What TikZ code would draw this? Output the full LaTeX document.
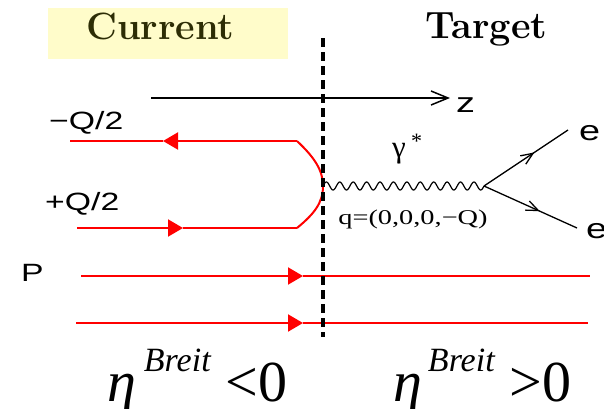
\documentclass[tikz,border=0pt]{standalone}
\usepackage{graphicx}
\usepackage{fontspec}
\usepackage{tikz}
\usetikzlibrary{arrows.meta,decorations.markings}
\newfontfamily\lsans{Liberation Sans}
\newfontfamily\lserif{Liberation Serif}
\newcommand{\hwide}[1]{\scalebox{1.35}[1]{#1}}
\definecolor{boxyellow}{RGB}{255,252,202}
\definecolor{darkolive}{RGB}{45,45,5}

\begin{document}
\begin{tikzpicture}[x=1pt, y=-1pt,
  fline/.style={red, line width=2pt},
  ftip/.style={-{Triangle[length=15pt,width=17pt]}},
  eline/.style={line width=1.3pt, postaction={decorate},
    decoration={markings, mark=at position 0.6 with {\arrow{Straight Barb[length=12pt,width=10pt]}}}},
  lab/.style={anchor=base west, inner sep=0pt, font=\lsans\fontsize{25}{28}\selectfont},
  big/.style={anchor=base west, inner sep=0pt, font=\lsans\fontsize{28}{30}\selectfont},
  title/.style={anchor=base west, inner sep=0pt, font=\fontsize{38}{42}\selectfont\bfseries},
  eta/.style={anchor=base west, inner sep=0pt, font=\lserif\fontsize{58}{60}\selectfont}]
  \useasboundingbox (0,0) rectangle (604,408);

  % Regions
  \fill[boxyellow] (48,8) rectangle (288,59);
  \node[title, text=darkolive] (curr) at (86,39) {Current};
  \node[title] (targ) at (425,38) {Target};

  % z axis
  \coordinate (zstart) at (151,98);
  \coordinate (zend) at (450,98);
  \draw[line width=1.5pt, -{Straight Barb[length=17pt,width=14pt]}] (zstart) -- (zend);
  \node[big] (zlab) at (456,112) {\hwide{z}};

  % Quark line (-Q/2 in, +Q/2 out)
  \coordinate (qtl) at (70,141);
  \coordinate (qtm) at (163,141);
  \coordinate (qtop) at (297,141);
  \coordinate (vtx) at (323,186);
  \coordinate (qbot) at (297,228);
  \coordinate (qbm) at (183,228);
  \coordinate (qbl) at (77,228);
  \draw[fline, ftip] (qtop) -- (qtm);
  \draw[fline] (qtm) -- (qtl);
  \draw[fline] (qtop) .. controls (314,157) and (323,170) .. (vtx)
    .. controls (323,203) and (314,214) .. (qbot);
  \draw[fline, ftip] (qbl) -- (qbm);
  \draw[fline] (qbm) -- (qbot);
  \node[lab] (mq) at (49,129) {\hwide{−Q/2}};
  \node[lab] (pq) at (45,210) {\hwide{+Q/2}};

  % Photon and lepton
  \coordinate (ephot) at (484,186);
  \coordinate (eup) at (568,130);
  \coordinate (edn) at (577,228);
  \draw[line width=1.2pt] plot[domain=0:161, samples=240, smooth] ({323+\x}, {186-4*sin(26.83*\x)});
  \draw[eline] (ephot) -- (eup);
  \draw[eline] (ephot) -- (edn);
  \node[anchor=base west, inner sep=0pt, font=\lserif\fontsize{31}{33}\selectfont] (gam) at (392,157)
    {γ\,\raisebox{9pt}{\fontsize{22}{22}\selectfont *}};
  \node[inner sep=0pt, font=\lserif\fontsize{21}{24}\selectfont] (qlab) at (413,219) {\hwide{q=(0,0,0,−Q)}};
  \node[big] (eu) at (579,140) {\hwide{e}};
  \node[big] (ed) at (586,238) {\hwide{e}};

  % Proton
  \coordinate (pal) at (81,276);
  \coordinate (pam) at (303,276);
  \coordinate (par) at (590,276);
  \coordinate (pbl) at (76,323);
  \coordinate (pbm) at (303,323);
  \coordinate (pbr) at (588,323);
  \draw[fline, ftip] (pal) -- (pam);
  \draw[fline] (pam) -- (par);
  \draw[fline, ftip] (pbl) -- (pbm);
  \draw[fline] (pbm) -- (pbr);
  \node[lab] (plab) at (21,281) {\hwide{P}};

  % Breit frame divide
  \coordinate (dtop) at (323,38);
  \coordinate (dbot) at (323,337);
  \draw[line width=3.2pt, dash pattern=on 9pt off 5pt] (dtop) -- (dbot);

  \node[eta] (etal) at (107,401)
    {\textit{η}\hspace{8pt}\raisebox{30pt}{\fontsize{34}{36}\selectfont\textit{Breit}}\hspace{14pt}<0};
  \node[eta] (etar) at (393,401)
    {\textit{η}\hspace{6pt}\raisebox{30pt}{\fontsize{34}{36}\selectfont\textit{Breit}}\hspace{14pt}>0};
\end{tikzpicture}
\end{document}
